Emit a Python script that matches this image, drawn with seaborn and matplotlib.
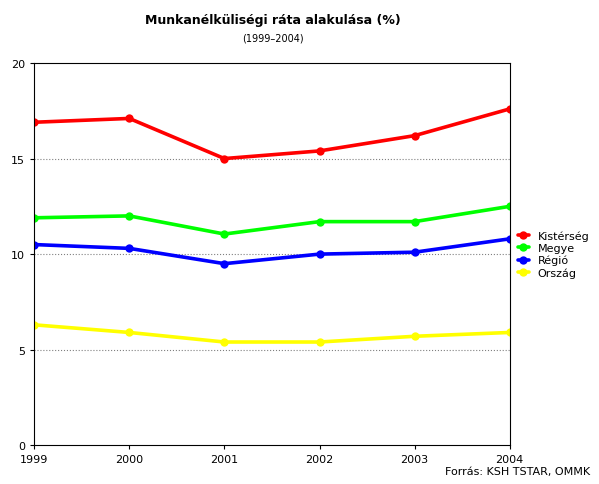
import seaborn as sns
import matplotlib.pyplot as plt
import pandas as pd

years = [1999, 2000, 2001, 2002, 2003, 2004]
kisterseg = [16.9, 17.1, 15.0, 15.4, 16.2, 17.6]
megye = [11.9, 12.0, 11.05, 11.7, 11.7, 12.5]
regio = [10.5, 10.3, 9.5, 10.0, 10.1, 10.8]
orszag = [6.3, 5.9, 5.4, 5.4, 5.7, 5.9]

series = {"Kistérség": kisterseg, "Megye": megye, "Régió": regio, "Ország": orszag}
colors = {"Kistérség": "#ff0000", "Megye": "#00ff00", "Régió": "#0000ff", "Ország": "#ffff00"}

df = pd.DataFrame([
    {"year": y, "value": v, "series": name}
    for name, vals in series.items() for y, v in zip(years, vals)
])

sns.set_style("white")
plt.rcParams["text.color"] = "black"
plt.rcParams["xtick.color"] = "black"
plt.rcParams["ytick.color"] = "black"
fig = plt.figure(figsize=(5.99, 4.85), dpi=100)
ax = fig.add_axes([0.057, 0.080, 0.794, 0.788])

sns.lineplot(data=df, x="year", y="value", hue="series", palette=colors,
             marker="o", markersize=6, markeredgewidth=0, linewidth=2.6, ax=ax)

ax.set_xlim(1999, 2004)
ax.set_ylim(0, 20)
ax.set_xticks(years)
ax.set_yticks([0, 5, 10, 15, 20])
ax.tick_params(labelsize=8, length=3, direction="out", left=True, bottom=True)
ax.set_xlabel("")
ax.set_ylabel("")
for y in [5, 10, 15]:
    ax.axhline(y, color="gray", linestyle=":", linewidth=0.8, zorder=0)
for s in ax.spines.values():
    s.set_color("black")
    s.set_linewidth(0.8)

ax.legend(loc="center left", bbox_to_anchor=(1.0, 0.5), frameon=False, fontsize=8,
          handlelength=1.0, borderaxespad=0.3, labelspacing=0.2)

fig.text(0.455, 0.95, "Munkanélküliségi ráta alakulása (%)", ha="center", fontsize=9, weight="bold")
fig.text(0.455, 0.915, "(1999–2004)", ha="center", fontsize=7)
fig.text(0.985, 0.02, "Forrás: KSH TSTAR, OMMK", ha="right", fontsize=8)

fig.savefig("out.png", dpi=100)
